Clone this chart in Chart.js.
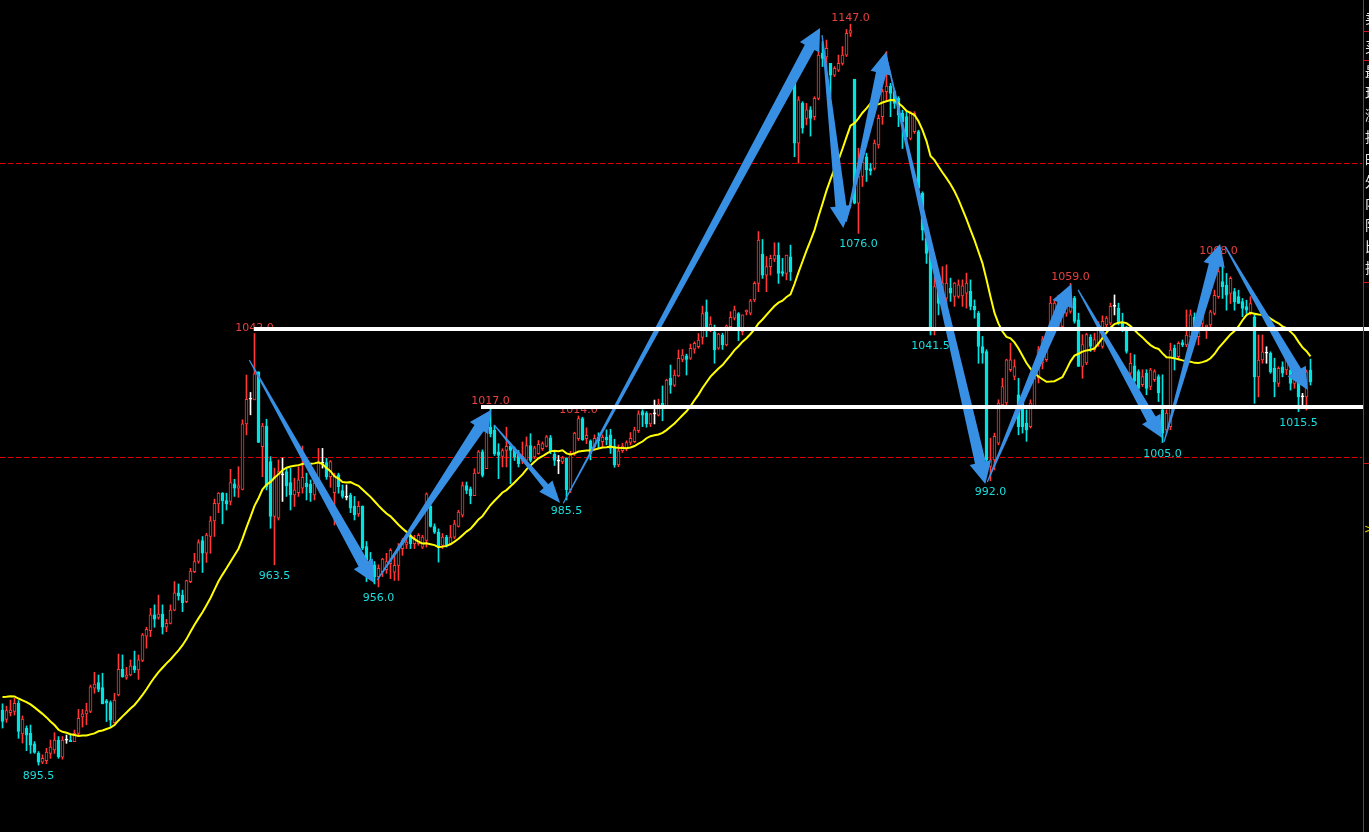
<!DOCTYPE html>
<html>
<head>
<meta charset="utf-8">
<title>K线</title>
<script src="https://cdn.jsdelivr.net/npm/chart.js@4.4.0/dist/chart.umd.min.js"></script>
<style>
  html, body { margin: 0; padding: 0; background: #000; overflow: hidden; }
  canvas { display: block; }
</style>
</head>
<body>
<canvas id="myChart" width="1369" height="832"></canvas>
<script>
// one value per bar, oldest first
const opens = [
  914.2, 911.0, 913.3, 913.7, 916.5, 906.1, 908.0, 906.3, 902.7, 899.5,
  896.5, 897.0, 899.5, 900.7, 904.0, 898.2, 904.0, 904.0, 903.5, 906.3,
  911.9, 912.9, 913.7, 921.6, 923.5, 921.8, 917.3, 916.7, 909.9, 919.3,
  928.0, 925.3, 926.1, 929.2, 927.8, 931.0, 939.3, 941.1, 946.5, 945.6,
  946.8, 942.3, 943.6, 948.1, 954.0, 953.2, 951.0, 957.8, 961.2, 964.6,
  971.7, 967.4, 973.1, 978.4, 984.2, 987.8, 985.3, 985.0, 991.0, 989.5,
  989.1, 1011.3, 1019.7, 1019.5, 1029.0, 1003.6, 1010.6, 998.5, 979.9, 979.3,
  994.0, 995.1, 991.4, 987.2, 988.0, 989.5, 991.2, 990.8, 987.2, 991.2,
  998.0, 998.2, 993.4, 988.0, 994.0, 988.7, 986.4, 987.2, 983.3, 980.8,
  983.3, 969.7, 965.2, 963.5, 959.5, 961.2, 961.8, 963.9, 961.0, 963.3,
  969.0, 970.4, 973.5, 970.7, 970.7, 969.5, 971.8, 983.3, 976.5, 974.6,
  970.1, 972.9, 970.6, 972.9, 976.5, 980.3, 990.4, 989.3, 987.0, 994.6,
  1001.8, 996.1, 1010.2, 1009.1, 1001.8, 1000.3, 1002.3, 1003.7, 1002.9, 1001.2,
  998.7, 999.0, 1004.0, 1000.1, 1001.2, 1002.9, 1003.7, 1006.6, 1001.0, 998.7,
  998.4, 999.8, 989.0, 1001.4, 1006.3, 1013.1, 1006.3, 1005.6, 1003.6, 1006.8,
  1005.3, 1006.8, 1007.6, 1003.8, 997.4, 1002.2, 1003.0, 1005.0, 1005.3, 1009.0,
  1015.5, 1014.9, 1011.3, 1014.7, 1014.3, 1018.3, 1017.4, 1026.8, 1024.5, 1027.6,
  1033.2, 1034.4, 1033.6, 1036.7, 1037.5, 1040.7, 1049.4, 1043.8, 1042.6, 1037.0,
  1041.5, 1038.1, 1044.3, 1047.2, 1048.8, 1042.6, 1049.4, 1048.9, 1053.4, 1059.0,
  1069.0, 1061.8, 1064.7, 1067.2, 1068.6, 1063.0, 1062.4, 1068.0, 1128.0, 1106.6,
  1120.1, 1115.0, 1117.9, 1115.6, 1121.8, 1137.1, 1135.9, 1133.7, 1129.7, 1131.4,
  1133.7, 1136.5, 1143.9, 1128.3, 1086.2, 1095.3, 1102.0, 1098.0, 1098.0, 1106.0,
  1115.6, 1124.1, 1126.0, 1124.1, 1121.8, 1116.7, 1115.6, 1108.2, 1110.5, 1110.5,
  1089.6, 1074.3, 1069.2, 1043.2, 1057.9, 1055.7, 1054.0, 1057.4, 1054.6, 1054.6,
  1054.8, 1055.7, 1056.3, 1051.2, 1048.9, 1037.6, 1035.9, 996.9, 999.1, 1004.8,
  1017.8, 1018.4, 1029.7, 1027.4, 1021.2, 1019.5, 1011.6, 1010.4, 1017.2, 1027.0,
  1032.0, 1033.1, 1044.4, 1046.6, 1044.4, 1044.4, 1048.9, 1049.5, 1054.0, 1046.6,
  1030.8, 1032.0, 1040.8, 1036.5, 1038.7, 1037.6, 1044.9, 1045.5, 1051.2, 1050.6,
  1045.5, 1043.8, 1028.5, 1031.0, 1029.1, 1024.6, 1028.5, 1024.0, 1026.3, 1027.4,
  1016.1, 1009.3, 1010.4, 1037.0, 1034.1, 1038.9, 1038.1, 1040.9, 1047.5, 1040.9,
  1045.4, 1044.3, 1044.9, 1048.8, 1054.5, 1059.6, 1058.4, 1055.6, 1056.2, 1054.5,
  1052.8, 1051.1, 1048.8, 1047.7, 1027.3, 1033.0, 1035.3, 1035.3, 1030.2, 1025.1,
  1030.7, 1029.6, 1029.6, 1025.1, 1026.2, 1020.5, 1020.5, 1029.6
];
const highs = [
  916.3, 915.5, 917.6, 918.2, 917.4, 912.2, 908.8, 909.1, 903.5, 900.1,
  899.0, 901.2, 904.0, 906.5, 905.2, 905.2, 905.7, 905.7, 907.4, 914.4,
  914.4, 916.5, 922.7, 927.0, 926.1, 926.7, 917.8, 917.3, 919.9, 933.2,
  932.9, 928.7, 931.2, 934.2, 932.9, 940.2, 942.3, 948.7, 949.9, 953.2,
  949.9, 945.0, 949.9, 957.8, 957.0, 954.9, 958.3, 962.3, 967.4, 972.0,
  973.1, 974.2, 979.9, 985.8, 988.0, 988.0, 987.8, 995.9, 992.5, 996.8,
  1012.7, 1027.9, 1022.0, 1042.0, 1029.0, 1011.5, 1012.9, 1000.2, 996.3, 999.1,
  999.7, 996.3, 996.3, 992.9, 996.8, 1003.8, 994.6, 992.3, 993.4, 1003.0,
  1003.0, 999.7, 998.9, 994.6, 994.6, 990.6, 990.6, 987.8, 986.7, 985.0,
  983.5, 971.4, 967.7, 964.6, 963.5, 965.7, 967.4, 969.0, 967.3, 970.7,
  972.4, 972.4, 974.1, 973.5, 974.1, 973.5, 987.9, 984.8, 977.4, 975.7,
  974.1, 973.5, 976.9, 978.6, 982.0, 991.6, 991.6, 989.9, 996.1, 1002.3,
  1002.5, 1011.4, 1017.0, 1010.8, 1004.6, 1002.9, 1010.2, 1004.6, 1003.5, 1002.3,
  1005.2, 1006.9, 1008.0, 1003.7, 1005.7, 1005.2, 1007.4, 1007.4, 1002.3, 1000.6,
  1000.3, 999.8, 1002.0, 1008.5, 1014.0, 1013.6, 1010.0, 1005.9, 1007.6, 1008.3,
  1007.6, 1009.3, 1009.5, 1006.1, 1004.2, 1004.7, 1005.6, 1008.4, 1010.2, 1015.8,
  1016.1, 1015.5, 1014.9, 1019.4, 1019.7, 1024.2, 1026.5, 1031.3, 1029.6, 1036.4,
  1036.6, 1035.0, 1038.4, 1039.2, 1042.0, 1051.3, 1053.4, 1047.7, 1044.9, 1042.1,
  1042.1, 1044.9, 1049.4, 1051.3, 1049.1, 1048.3, 1050.0, 1053.6, 1059.6, 1076.6,
  1073.9, 1068.1, 1068.6, 1072.8, 1072.8, 1067.5, 1068.6, 1072.0, 1128.0, 1122.4,
  1120.7, 1120.1, 1119.0, 1122.4, 1137.7, 1141.1, 1141.6, 1133.7, 1132.6, 1136.5,
  1139.4, 1145.2, 1147.0, 1128.3, 1104.9, 1102.6, 1103.2, 1099.8, 1107.7, 1116.2,
  1125.0, 1137.7, 1126.9, 1124.6, 1122.4, 1117.8, 1117.3, 1117.3, 1117.3, 1111.0,
  1090.1, 1076.6, 1070.3, 1061.3, 1060.2, 1064.7, 1065.3, 1060.8, 1059.3, 1060.2,
  1060.2, 1062.5, 1060.2, 1053.4, 1049.5, 1041.0, 1036.5, 1006.5, 1008.2, 1019.5,
  1026.8, 1033.3, 1038.7, 1033.1, 1026.8, 1021.2, 1016.1, 1019.5, 1028.5, 1037.6,
  1041.0, 1042.7, 1054.6, 1053.4, 1055.0, 1053.4, 1053.4, 1059.0, 1054.6, 1048.9,
  1041.6, 1042.1, 1041.6, 1042.1, 1046.0, 1048.0, 1047.8, 1052.3, 1055.1, 1052.3,
  1048.9, 1044.4, 1035.3, 1034.8, 1029.7, 1029.7, 1029.7, 1030.2, 1029.7, 1028.0,
  1028.0, 1016.1, 1038.7, 1038.1, 1039.2, 1039.8, 1050.0, 1050.0, 1049.0, 1046.6,
  1050.5, 1044.9, 1049.9, 1056.7, 1068.0, 1066.4, 1062.4, 1061.3, 1057.3, 1056.7,
  1053.9, 1053.3, 1054.5, 1048.3, 1041.5, 1041.5, 1037.5, 1035.8, 1033.6, 1030.7,
  1032.4, 1035.0, 1031.9, 1030.7, 1027.3, 1021.7, 1029.6, 1033.3
];
const lows = [
  908.1, 910.0, 912.2, 912.5, 904.6, 903.0, 900.4, 899.5, 899.5, 895.5,
  896.0, 896.0, 897.8, 899.5, 897.8, 897.5, 902.9, 903.5, 903.5, 905.7,
  908.4, 909.2, 913.3, 919.9, 920.4, 916.3, 910.3, 908.6, 909.7, 919.0,
  925.3, 924.6, 925.8, 926.9, 924.6, 930.6, 935.2, 939.1, 942.3, 945.0,
  940.0, 940.8, 943.4, 947.9, 951.5, 947.6, 950.6, 957.4, 960.8, 964.0,
  960.9, 964.3, 967.4, 973.1, 981.2, 977.4, 982.1, 983.8, 986.7, 986.4,
  988.9, 1007.6, 1014.4, 1019.5, 1005.0, 993.4, 988.9, 975.9, 963.5, 978.7,
  985.0, 986.7, 982.1, 983.3, 986.7, 987.8, 985.5, 985.0, 985.5, 991.2,
  996.3, 992.5, 989.8, 977.0, 987.8, 986.1, 985.5, 981.2, 978.7, 979.9,
  968.6, 957.8, 960.6, 957.0, 956.0, 959.5, 960.6, 958.8, 958.2, 958.2,
  966.7, 969.0, 969.0, 969.0, 970.1, 969.0, 969.5, 976.3, 974.1, 964.4,
  969.0, 969.5, 970.4, 972.4, 976.3, 979.7, 987.6, 984.2, 987.0, 994.4,
  993.3, 996.1, 1006.9, 1000.6, 992.7, 996.7, 996.7, 991.0, 998.9, 996.7,
  997.8, 998.4, 998.4, 999.5, 1001.0, 1002.3, 1003.5, 1001.2, 997.2, 994.4,
  997.8, 985.5, 988.0, 1000.6, 1005.7, 1005.7, 1004.6, 999.1, 1002.5, 1003.0,
  1003.6, 1004.2, 1001.3, 996.6, 996.8, 1001.6, 1002.2, 1004.2, 1005.0, 1008.4,
  1010.4, 1010.2, 1010.4, 1011.3, 1014.0, 1012.4, 1017.2, 1021.7, 1024.0, 1027.4,
  1032.4, 1027.9, 1033.2, 1035.3, 1037.0, 1038.4, 1040.9, 1042.6, 1031.9, 1036.6,
  1036.6, 1037.8, 1043.4, 1046.6, 1039.6, 1041.5, 1048.3, 1048.3, 1052.8, 1056.2,
  1060.7, 1056.2, 1061.8, 1066.4, 1059.0, 1061.5, 1060.2, 1060.0, 1102.0, 1099.8,
  1110.0, 1112.8, 1109.0, 1114.5, 1121.3, 1132.6, 1132.0, 1122.4, 1129.2, 1130.9,
  1133.1, 1136.0, 1142.8, 1086.0, 1076.0, 1091.9, 1093.6, 1095.8, 1097.5, 1104.9,
  1113.0, 1121.0, 1115.6, 1118.4, 1112.2, 1104.8, 1107.7, 1107.7, 1109.9, 1090.7,
  1073.7, 1065.8, 1041.5, 1041.5, 1048.3, 1054.6, 1051.7, 1052.9, 1051.2, 1054.0,
  1051.2, 1050.6, 1050.0, 1047.2, 1031.9, 1031.9, 995.2, 992.0, 995.7, 1004.2,
  1017.2, 1017.8, 1029.1, 1026.3, 1007.6, 1008.2, 1005.4, 1009.9, 1016.7, 1025.2,
  1030.0, 1032.5, 1043.8, 1046.1, 1043.0, 1043.8, 1047.8, 1048.9, 1045.5, 1030.8,
  1026.8, 1031.4, 1035.9, 1035.9, 1037.6, 1037.0, 1043.2, 1044.9, 1048.3, 1044.9,
  1042.7, 1035.3, 1025.7, 1025.2, 1022.9, 1024.0, 1021.2, 1022.9, 1025.7, 1018.9,
  1005.0, 1008.2, 1009.3, 1029.6, 1033.0, 1037.5, 1037.5, 1039.8, 1040.0, 1038.1,
  1043.2, 1040.3, 1044.3, 1048.3, 1053.9, 1053.9, 1049.9, 1052.2, 1049.9, 1052.2,
  1047.7, 1048.8, 1048.3, 1018.3, 1020.5, 1031.9, 1031.9, 1028.5, 1020.5, 1024.0,
  1027.3, 1028.0, 1022.8, 1023.4, 1015.5, 1017.2, 1016.0, 1024.5
];
const closes = [
  910.3, 914.0, 914.2, 916.5, 906.9, 911.1, 905.7, 902.3, 899.8, 896.5,
  897.8, 899.9, 901.6, 904.0, 898.4, 904.0, 904.0, 903.5, 906.3, 911.4,
  912.9, 914.0, 922.1, 923.0, 921.2, 916.3, 916.5, 910.8, 917.6, 928.0,
  925.5, 926.1, 929.2, 927.8, 931.2, 939.7, 941.6, 946.5, 945.0, 946.8,
  942.3, 943.6, 948.1, 954.0, 952.9, 950.6, 958.1, 961.4, 964.6, 971.0,
  967.4, 973.6, 978.4, 984.4, 987.8, 985.3, 984.2, 991.4, 989.5, 990.3,
  1011.3, 1019.7, 1019.7, 1028.3, 1005.0, 1010.6, 990.0, 979.9, 993.4, 995.1,
  994.0, 990.3, 987.2, 988.9, 992.3, 993.2, 990.0, 988.0, 991.2, 998.0,
  998.0, 993.4, 998.5, 993.7, 990.0, 986.7, 986.4, 982.7, 980.4, 983.3,
  969.1, 965.2, 962.0, 959.5, 962.3, 965.4, 964.6, 968.4, 963.3, 969.0,
  971.8, 971.2, 970.7, 972.4, 973.5, 972.9, 987.6, 976.5, 974.6, 969.5,
  972.9, 970.1, 972.9, 977.4, 981.4, 990.4, 988.7, 987.0, 994.6, 1001.8,
  993.8, 1009.7, 1008.0, 1001.2, 1000.6, 1002.3, 1003.7, 1002.3, 1000.0, 997.8,
  1000.3, 1004.0, 998.9, 1003.2, 1004.4, 1004.6, 1006.9, 1001.8, 998.9, 998.7,
  999.8, 989.0, 1001.0, 1008.2, 1013.1, 1006.0, 1007.4, 1001.3, 1006.4, 1005.6,
  1006.8, 1005.9, 1003.0, 997.4, 1002.2, 1003.8, 1005.0, 1006.4, 1009.3, 1014.7,
  1014.3, 1011.3, 1014.7, 1014.7, 1018.1, 1017.2, 1026.2, 1024.5, 1027.9, 1033.6,
  1034.7, 1033.2, 1037.0, 1038.7, 1039.8, 1048.8, 1043.8, 1045.2, 1036.4, 1041.8,
  1038.1, 1044.6, 1047.5, 1050.0, 1044.3, 1048.3, 1049.9, 1053.1, 1059.0, 1073.7,
  1061.8, 1064.7, 1067.5, 1068.6, 1062.4, 1062.4, 1068.6, 1063.0, 1106.6, 1121.3,
  1111.7, 1117.9, 1115.0, 1121.8, 1136.5, 1135.4, 1138.8, 1129.7, 1132.0, 1133.7,
  1136.5, 1143.9, 1144.8, 1086.2, 1095.3, 1100.3, 1097.5, 1097.3, 1106.6, 1115.0,
  1124.1, 1126.0, 1123.5, 1120.1, 1116.1, 1113.9, 1108.8, 1116.7, 1116.7, 1091.3,
  1077.1, 1069.2, 1043.8, 1057.9, 1052.2, 1059.1, 1059.1, 1055.7, 1059.1, 1058.5,
  1058.2, 1059.1, 1051.2, 1050.0, 1037.6, 1035.3, 999.1, 999.1, 1007.1, 1018.4,
  1024.0, 1033.1, 1033.1, 1030.8, 1010.4, 1010.4, 1009.3, 1018.4, 1026.8, 1036.5,
  1039.9, 1042.1, 1052.3, 1052.3, 1051.2, 1050.0, 1051.2, 1054.0, 1046.1, 1030.8,
  1038.2, 1041.6, 1037.6, 1039.9, 1044.4, 1046.1, 1047.2, 1051.2, 1051.2, 1045.5,
  1043.8, 1035.9, 1031.9, 1026.0, 1023.4, 1027.4, 1023.4, 1029.7, 1029.1, 1021.8,
  1008.2, 1015.0, 1036.4, 1033.6, 1038.7, 1038.1, 1041.5, 1048.3, 1043.0, 1044.3,
  1049.9, 1044.9, 1049.4, 1055.0, 1063.0, 1057.9, 1055.0, 1060.7, 1052.8, 1052.2,
  1050.5, 1049.9, 1052.2, 1027.3, 1033.0, 1035.8, 1035.3, 1029.0, 1025.6, 1030.2,
  1028.5, 1033.6, 1025.1, 1027.9, 1020.5, 1020.5, 1029.0, 1025.6
];

// MA20 over the first bars (its window reaches back before the screen)
const maHead = [918.6, 918.7, 918.9, 918.8, 918.1, 917.5, 916.9, 916.1, 915.1, 914.0,
  912.9, 911.7, 910.3, 909.1, 907.5, 906.8, 906.5, 906.0, 905.7];
const maPeriod = 20;

// white support / resistance lines: price and the bar where each starts
const levelPrices = [1043.5, 1017.0];
const levelFrom = [63, 119.5];
// dashed guide lines
const guidePrices = [1100, 1000];

// bars whose high / low is written on the chart
const highMarks = [63, 122, 144, 212, 267, 304];
const lowMarks = [9, 68, 94, 141, 214, 232, 247, 290, 324];

// hand drawn arrows: [bar, price] tail -> head
const arrowFrom = [[61.7, 1033.0], [93.7, 958.4], [122.9, 1011.0], [140.2, 984.4],
  [204.9, 1143.3], [210.9, 1079.9], [220.9, 1136.5], [246.2, 991.6],
  [268.9, 1056.8], [290.4, 1005.2], [305.7, 1071.5]];
const arrowTo = [[92.9, 957.3], [122.2, 1016.1], [139.4, 984.5], [204.4, 1145.7],
  [210.2, 1077.8], [220.9, 1137.6], [245.7, 990.9], [267.2, 1058.8],
  [289.9, 1006.5], [304.4, 1072.4], [326.3, 1022.8]];

// quote panel captions, cut off at the right edge
const panelChars = ['卖', '买', '最', '现', '涨', '持', '昨', '外', '内', '阳', '比', '换'];

const UP = '#ff3838', DOWN = '#00e4e4', FLAT = '#ffffff';
const ARROW = '#3890e4';

const barIdx = opens.map((_, i) => i);
const ma = closes.map((c, i) => {
  if (i < maHead.length) return maHead[i];
  let s = 0;
  for (let k = i - maPeriod + 1; k <= i; k++) s += closes[k];
  return s / maPeriod;
});

function candleColor(i) {
  if (closes[i] > opens[i]) return UP;
  if (closes[i] < opens[i]) return DOWN;
  return FLAT;
}

function drawArrow(g, x0, y0, x1, y1) {
  const dx = x1 - x0, dy = y1 - y0, len = Math.hypot(dx, dy);
  const ux = dx / len, uy = dy / len, nx = -uy, ny = ux;
  const neck = Math.min(5.5, Math.max(3, len * 0.03));
  const head = neck + 5.5, hl = 22;
  const bx = x1 - ux * hl, by = y1 - uy * hl;
  g.beginPath();
  g.moveTo(x0 + nx * 0.6, y0 + ny * 0.6);
  g.lineTo(bx + nx * neck, by + ny * neck);
  g.lineTo(bx + nx * head, by + ny * head);
  g.lineTo(x1, y1);
  g.lineTo(bx - nx * head, by - ny * head);
  g.lineTo(bx - nx * neck, by - ny * neck);
  g.lineTo(x0 - nx * 0.6, y0 - ny * 0.6);
  g.closePath();
  g.fill();
}

const overlay = {
  id: 'overlay',
  beforeDatasetsDraw(chart) {
    const g = chart.ctx, a = chart.chartArea, y = chart.scales.y;
    g.save();
    g.strokeStyle = '#e00000';
    g.lineWidth = 1;
    g.setLineDash([5, 3]);
    guidePrices.forEach(p => {
      const py = Math.round(y.getPixelForValue(p)) + 0.5;
      g.beginPath(); g.moveTo(a.left, py); g.lineTo(a.right - 1, py); g.stroke();
    });
    g.restore();
  },
  afterDatasetsDraw(chart) {
    const g = chart.ctx, a = chart.chartArea, x = chart.scales.x, y = chart.scales.y;
    const W = chart.width, H = chart.height;
    g.save();

    // high / low prices
    g.font = '11px "DejaVu Sans", sans-serif';
    g.textAlign = 'center';
    g.textBaseline = 'alphabetic';
    g.fillStyle = '#e64040';
    highMarks.forEach(i => {
      g.fillText(highs[i].toFixed(1), x.getPixelForValue(i), y.getPixelForValue(highs[i]) - 3);
    });
    g.fillStyle = '#1adede';
    lowMarks.forEach(i => {
      g.fillText(lows[i].toFixed(1), x.getPixelForValue(i), y.getPixelForValue(lows[i]) + 14);
    });

    // arrows
    g.fillStyle = ARROW;
    arrowFrom.forEach((f, k) => {
      const t = arrowTo[k];
      drawArrow(g, x.getPixelForValue(f[0]), y.getPixelForValue(f[1]),
        x.getPixelForValue(t[0]), y.getPixelForValue(t[1]));
    });

    // white levels
    g.fillStyle = '#ffffff';
    levelPrices.forEach((p, k) => {
      const py = Math.round(y.getPixelForValue(p));
      const x0 = Math.round(x.getPixelForValue(levelFrom[k]));
      const x1 = k === 0 ? W : a.right;
      g.fillRect(x0, py - 2, x1 - x0, 4);
    });

    // right panel edge
    g.strokeStyle = '#d01818';
    g.lineWidth = 1;
    g.beginPath(); g.moveTo(a.right + 0.5, 0); g.lineTo(a.right + 0.5, H); g.stroke();
    [31.5, 60.5, 282.5, 463.5].forEach(py => {
      g.beginPath(); g.moveTo(a.right, py); g.lineTo(W, py); g.stroke();
    });
    g.fillStyle = '#e8e8e8';
    g.font = '14px "Noto Sans CJK SC", sans-serif';
    g.textAlign = 'left';
    g.textBaseline = 'middle';
    const rows = [18, 47, 72, 93, 115, 137, 160, 182, 203, 225, 247, 268];
    panelChars.forEach((c, k) => g.fillText(c, a.right + 2, rows[k]));
    g.fillStyle = '#e0d000';
    g.font = '12px "DejaVu Sans", sans-serif';
    g.fillText('>', a.right + 1, 530);
    g.restore();
  }
};

const ctx = document.getElementById('myChart');

new Chart(ctx, {
  type: 'bar',
  data: {
    datasets: [
      {
        type: 'line',
        label: 'MA20',
        data: barIdx.map(i => ({ x: i, y: ma[i] })),
        borderColor: '#ffff00',
        borderWidth: 2,
        pointRadius: 0,
        tension: 0,
        order: 0
      },
      {
        label: 'body',
        data: barIdx.map(i => ({ x: i, y: [opens[i], closes[i]] })),
        backgroundColor: c => closes[c.dataIndex] > opens[c.dataIndex] ? '#000000' : candleColor(c.dataIndex),
        borderColor: c => candleColor(c.dataIndex),
        borderWidth: 1,
        borderSkipped: false,
        barThickness: 3,
        minBarLength: 1,
        grouped: false,
        order: 1
      },
      {
        label: 'wick',
        data: barIdx.map(i => ({ x: i, y: [lows[i], highs[i]] })),
        backgroundColor: c => candleColor(c.dataIndex),
        barThickness: 1,
        grouped: false,
        order: 2
      }
    ]
  },
  options: {
    responsive: false,
    devicePixelRatio: 1,
    animation: false,
    layout: { padding: { left: 0, right: 6, top: 0, bottom: 0 } },
    plugins: {
      legend: { display: false },
      tooltip: { enabled: false }
    },
    scales: {
      x: { type: 'linear', min: -0.625, max: 340.125, offset: false, display: false, grid: { display: false } },
      y: { min: 872.8, max: 1155.2, display: false, grid: { display: false } }
    }
  },
  plugins: [overlay]
});
</script>
</body>
</html>
